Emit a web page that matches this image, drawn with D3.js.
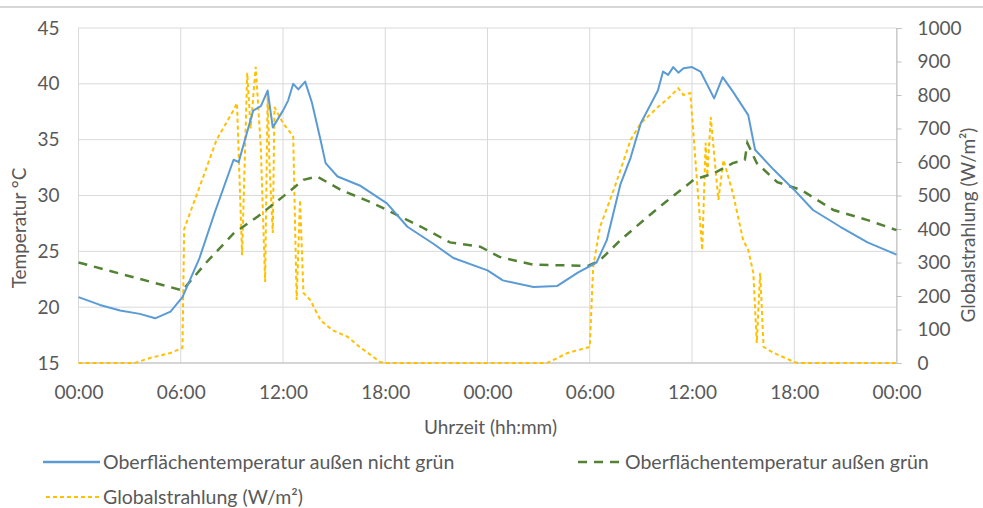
<!DOCTYPE html>
<html><head><meta charset="utf-8">
<script src="https://cdn.jsdelivr.net/npm/d3@7"></script>
<style>body{margin:0;background:#fff}svg{display:block}text{font-family:Lato,"Open Sans",sans-serif;fill:#595959}</style>
</head><body><svg id="c" width="983" height="508"></svg>
<script>
// hours since start (0..48)
const tempTickLabels=[15,20,25,30,35,40,45];
const radTickLabels=[0,100,200,300,400,500,600,700,800,900,1000];
const timeTickLabels=["00:00","06:00","12:00","18:00","00:00","06:00","12:00","18:00","00:00"];
const seriesNames=["Oberflächentemperatur außen nicht grün","Oberflächentemperatur außen grün","Globalstrahlung (W/m²)"];

const hoursNichtGruen=[0,1.26,2.44,3.6,4.5,5.4,6.1,7.1,8.0,9.1,9.4,10.25,10.7,11.1,11.4,12.0,12.3,12.6,12.9,13.3,13.7,14.2,14.5,15.2,16.5,18.1,19.3,20.8,22.0,24.0,24.9,26.7,28.1,29.3,30.4,31.0,31.8,32.4,33.0,34.0,34.3,34.6,34.9,35.2,35.5,36.0,36.5,37.3,37.8,38.4,39.3,39.7,40.8,42.0,43.1,44.7,46.3,48];
const tempNichtGruen=[20.9,20.2,19.7,19.4,19.0,19.6,20.9,24.4,28.5,33.2,33.0,37.6,38.0,39.4,36.1,37.6,38.5,40.0,39.5,40.2,38.3,35.0,32.9,31.7,30.9,29.3,27.2,25.7,24.4,23.3,22.4,21.8,21.9,23.1,24.0,26.0,31.0,33.4,36.5,39.4,41.1,40.8,41.5,41.0,41.4,41.5,41.1,38.7,40.6,39.3,37.2,34.1,32.3,30.5,28.7,27.2,25.8,24.7];

const hoursGruen=[0,4.4,6.1,7.5,9.1,10.5,12.0,13.2,14.0,15.4,17.3,18.5,20.1,21.8,23.6,24.7,26.7,29.9,30.6,31.8,33.4,34.6,36.1,37.3,38.4,39.1,39.25,39.8,41.0,42.4,44.3,46.3,48];
const tempGruen=[24.0,22.2,21.5,24.0,26.6,28.1,29.9,31.4,31.7,30.5,29.3,28.4,27.2,25.8,25.4,24.5,23.8,23.7,24.2,26.0,28.1,29.6,31.4,32.0,32.9,33.2,34.7,32.9,31.2,30.5,28.7,27.8,26.9];

const hoursStrahlung=[0,3.3,4.2,5.4,6.1,6.2,7.1,8.1,9.1,9.3,9.6,9.9,10.1,10.4,10.7,10.95,11.1,11.2,11.4,11.5,12.0,12.4,12.6,12.8,13.0,13.2,13.6,14.2,14.9,15.8,16.5,17.7,18.0,27.5,28.7,30.0,30.2,30.6,31.4,32.4,33.0,34.0,34.6,35.2,35.5,35.9,36.2,36.6,36.8,36.9,37.1,37.4,37.55,37.85,38.4,39.0,39.3,39.6,39.8,40.0,40.2,40.8,42.0,42.2,48];
const strahlung=[0,0,15,30,45,400,525,666,755,776,322,866,700,884,640,242,806,600,388,764,716,690,675,188,487,209,188,128,98,78,48,3,0,0,30,48,287,406,516,666,716,764,790,820,800,806,606,337,657,560,734,567,487,606,507,367,337,269,60,269,48,30,3,0,0];

const svg=d3.select("#c");
const L=78.5,R=896.5,T=28,B=363;
const FS="19px";
const x=d3.scaleLinear().domain([0,48]).range([L,R]);
const yT=d3.scaleLinear().domain([15,45]).range([B,T]);
const yR=d3.scaleLinear().domain([0,1000]).range([B,T]);

svg.append("line").attr("x1",0).attr("x2",983).attr("y1",7).attr("y2",7).attr("stroke","#c8c8c8").attr("stroke-width",1.5);

// gridlines
const g=svg.append("g");
tempTickLabels.forEach(v=>{g.append("line").attr("x1",L).attr("x2",R).attr("y1",yT(v)).attr("y2",yT(v)).attr("stroke","#d9d9d9").attr("stroke-width",1);});
timeTickLabels.forEach((t,i)=>{g.append("line").attr("x1",x(i*6)).attr("x2",x(i*6)).attr("y1",T).attr("y2",B).attr("stroke","#d9d9d9").attr("stroke-width",1);});
g.append("line").attr("x1",L).attr("x2",R).attr("y1",B).attr("y2",B).attr("stroke","#bfbfbf");

// left axis
const axL=svg.append("g").attr("transform",`translate(${L},0)`).call(d3.axisLeft(yT).tickValues(tempTickLabels).tickSize(0).tickPadding(19));
axL.select(".domain").remove();
axL.selectAll("text").style("font-size",FS).style("fill","#595959").style("font-family","Lato");
// right axis
const axR=svg.append("g").attr("transform",`translate(${R},0)`).call(d3.axisRight(yR).tickValues(radTickLabels).tickFormat(d3.format("d")).tickSize(5).tickPadding(16));
axR.select(".domain").attr("stroke","#bfbfbf");
axR.selectAll("line").attr("stroke","#bfbfbf");
axR.selectAll("text").style("font-size",FS).style("fill","#595959").style("font-family","Lato");
// bottom axis
const axB=svg.append("g").attr("transform",`translate(0,${B})`).call(d3.axisBottom(x).tickValues(d3.range(0,49,6)).tickFormat((d,i)=>timeTickLabels[i]).tickSize(0).tickPadding(23));
axB.select(".domain").remove();
axB.selectAll("text").style("font-size",FS).style("fill","#595959").style("font-family","Lato");

svg.append("text").attr("x",(L+R)/2+3).attr("y",434).attr("text-anchor","middle").style("font-size",FS).text("Uhrzeit (hh:mm)");
svg.append("text").attr("transform","translate(26,228) rotate(-90)").attr("text-anchor","middle").style("font-size",FS).text("Temperatur °C");
svg.append("text").attr("transform","translate(975,225) rotate(-90)").attr("text-anchor","middle").style("font-size",FS).text("Globalstrahlung (W/m²)");

// series
const lineT=(hs,vs)=>d3.line().x((d,i)=>x(hs[i])).y(d=>yT(d))(vs);
const lineR=(hs,vs)=>d3.line().x((d,i)=>x(hs[i])).y(d=>yR(d))(vs);
svg.append("path").attr("d",lineR(hoursStrahlung,strahlung)).attr("fill","none").attr("stroke","#FFC000").attr("stroke-width",2).attr("stroke-dasharray","4,3");
svg.append("path").attr("d",lineT(hoursGruen,tempGruen)).attr("fill","none").attr("stroke","#548235").attr("stroke-width",2.5).attr("stroke-dasharray","9,7");
svg.append("path").attr("d",lineT(hoursNichtGruen,tempNichtGruen)).attr("fill","none").attr("stroke","#5B9BD5").attr("stroke-width",2).attr("stroke-linejoin","round");

// legend
const leg=svg.append("g").style("font-size","19.5px");
leg.append("line").attr("x1",43).attr("x2",100).attr("y1",462).attr("y2",462).attr("stroke","#5B9BD5").attr("stroke-width",2.5);
leg.append("text").attr("x",103).attr("y",469).text(seriesNames[0]);
leg.append("line").attr("x1",578).attr("x2",623).attr("y1",462).attr("y2",462).attr("stroke","#548235").attr("stroke-width",2.5).attr("stroke-dasharray","9,7");
leg.append("text").attr("x",625).attr("y",469).text(seriesNames[1]);
leg.append("line").attr("x1",46).attr("x2",100).attr("y1",497).attr("y2",497).attr("stroke","#FFC000").attr("stroke-width",2).attr("stroke-dasharray","4,3");
leg.append("text").attr("x",103).attr("y",504).text(seriesNames[2]);
</script></body></html>
